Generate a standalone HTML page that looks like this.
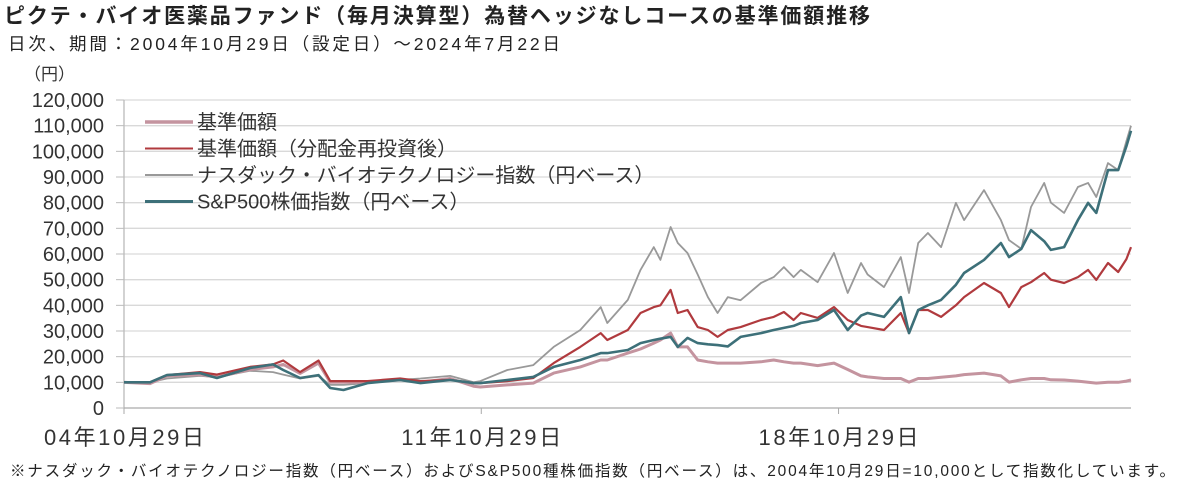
<!DOCTYPE html>
<html><head><meta charset="utf-8">
<style>
body{margin:0;background:#fff;width:1200px;height:499px;overflow:hidden;font-family:"Liberation Sans","Noto Sans CJK JP",sans-serif;color:#222}
svg text{font-family:"Liberation Sans","Noto Sans CJK JP",sans-serif}
</style></head><body>
<svg id="chart" width="1200" height="499" viewBox="0 0 1200 499">
<text x="4" y="23" font-size="21" font-weight="bold" fill="#222" textLength="866">ピクテ・バイオ医薬品ファンド（毎月決算型）為替ヘッジなしコースの基準価額推移</text>
<text x="8" y="50" font-size="17.5" fill="#222" textLength="552">日次、期間：2004年10月29日（設定日）～2024年7月22日</text>
<text x="24" y="80" font-size="17" fill="#333">（円）</text>
<g id="grid"></g><g id="yticks"></g><g id="xticks"></g><g id="series"></g>
<g id="legend"></g>
<text x="10" y="476" font-size="15.5" fill="#222" textLength="1165">※ナスダック・バイオテクノロジー指数（円ベース）およびS&amp;P500種株価指数（円ベース）は、2004年10月29日=10,000として指数化しています。</text>
</svg>
<script>
const yTicks=[0,10000,20000,30000,40000,50000,60000,70000,80000,90000,100000,110000,120000];
const xTickDates=[2004.83,2011.83,2018.83];
const xTickLabels=["04年10月29日","11年10月29日","18年10月29日"];
const dates=[2004.83,2005.34,2005.67,2006.32,2006.65,2007.30,2007.75,2007.95,2008.28,2008.64,2008.87,2009.13,2009.60,2010.24,2010.64,2011.22,2011.68,2011.81,2012.34,2012.85,2013.25,2013.77,2014.17,2014.30,2014.70,2014.95,2015.21,2015.34,2015.54,2015.68,2015.87,2016.07,2016.27,2016.46,2016.66,2016.91,2017.31,2017.56,2017.76,2017.95,2018.09,2018.42,2018.74,2019.01,2019.27,2019.40,2019.72,2020.05,2020.21,2020.39,2020.58,2020.84,2021.13,2021.29,2021.68,2022.01,2022.17,2022.41,2022.60,2022.86,2022.99,2023.25,2023.52,2023.72,2023.88,2024.11,2024.31,2024.47,2024.56];
const nasdaqBio=[10000,10000,11500,12500,12000,14500,14000,13000,11500,12500,9000,9000,9700,11000,11500,12500,10000,10500,14800,16700,23800,30400,39300,33100,42100,53800,62700,57700,70500,64300,60400,52000,43200,37000,43200,42000,48700,51000,54900,51000,53800,49000,60400,44800,56500,52000,47100,58800,44800,64300,68200,62700,79900,73200,84900,73200,65400,62000,78300,87700,80000,76000,86100,87700,82200,95400,92700,104000,110000];
const sp500=[10000,10000,12800,13600,11700,15600,17000,14800,11700,12800,7800,7000,9700,10900,9700,10900,9700,9700,10900,12100,16000,18700,21400,21400,22600,25300,26500,27000,27700,23800,27300,25300,24800,24500,24000,27700,29200,30400,31200,32000,33100,34300,38200,30400,36000,37000,35500,43200,29200,38200,40000,42100,48000,52600,57700,64300,58800,62000,69300,65000,61600,62700,73200,79900,76000,92700,92700,102000,108000];
const navReinvest=[10000,10000,12800,14000,13000,16000,17000,18500,14000,18500,10500,10500,10500,11500,10500,11000,9700,9700,10500,11700,17500,23800,29200,26500,30400,37000,39300,40000,46000,37000,38200,31500,30400,27700,30400,31500,34300,35500,37400,34300,37000,35100,39300,34300,32000,31500,30400,37000,29200,38200,38200,35500,40000,43200,48700,44800,39300,47100,49000,52600,50000,48700,51000,53800,49900,56500,53000,58000,62700];
const nav=[10000,9500,12500,13000,12000,15000,16000,17000,13500,17500,10000,10000,10000,11000,10000,11500,8500,8200,9000,9700,13600,16000,18700,18700,21400,23000,25300,26500,29200,23800,23800,18700,18000,17500,17500,17500,18000,18700,18000,17500,17500,16500,17500,15000,12500,12100,11500,11500,10100,11500,11500,12000,12500,13000,13600,12500,10100,11000,11500,11500,11000,10900,10500,10000,9700,10000,10000,10500,10900];
const seriesNames=["基準価額","基準価額（分配金再投資後）","ナスダック・バイオテクノロジー指数（円ベース）","S&P500株価指数（円ベース）"];

const NS="http://www.w3.org/2000/svg";
const X0=124,X1=1131,Y0=408,Y1=100,D0=2004.83,D1=2024.56;
const xs=d=>X0+(d-D0)/(D1-D0)*(X1-X0);
const ys=v=>Y0-v/120000*(Y0-Y1);
function mk(tag,attrs,parent){const e=document.createElementNS(NS,tag);for(const k in attrs)e.setAttribute(k,attrs[k]);parent.appendChild(e);return e;}
const grid=document.getElementById('grid'),yt=document.getElementById('yticks'),xt=document.getElementById('xticks'),sg=document.getElementById('series'),lg=document.getElementById('legend');
yTicks.forEach(v=>{
  const y=ys(v);
  if(v>0){const l=mk('line',{x1:X0,x2:X1,y1:y,y2:y,stroke:'#d9d9d9','stroke-width':1.3},grid);
  
  }
  const tk=mk('line',{x1:116,x2:X0,y1:y,y2:y,stroke:'#bbb','stroke-width':1},yt);
  
  
  const t=mk('text',{x:104,y:y+7,'text-anchor':'end','font-size':20,fill:'#333'},yt);
  t.textContent=v.toLocaleString('en-US');
  
  
});
const ax=mk('line',{x1:X0,x2:X0,y1:Y1,y2:Y0,stroke:'#bbb','stroke-width':1.3},grid);


const bx=mk('line',{x1:X0,x2:X1,y1:Y0,y2:Y0,stroke:'#aaa','stroke-width':1.3},grid);


xTickDates.forEach((d,i)=>{
  const x=xs(d);
  const tk=mk('line',{x1:x,x2:x,y1:Y0,y2:Y0+6,stroke:'#aaa','stroke-width':1},xt);
  
  
  const t=mk('text',{x:x,y:445,'text-anchor':'middle','font-size':22,fill:'#333',textLength:160},xt);
  t.textContent=xTickLabels[i];
  
  
});
const order=[[nasdaqBio,'#999999',1.8,'nasdaq-biotech-line'],[nav,'#c4949f',3,'nav-line'],[navReinvest,'#b03a3e',2.2,'nav-reinvested-line'],[sp500,'#3d7079',2.6,'sp500-line']];
order.forEach(([vals,col,w,name])=>{
  const p=mk('polyline',{points:vals.map((v,i)=>xs(dates[i]).toFixed(1)+','+ys(v).toFixed(1)).join(' '),fill:'none',stroke:col,'stroke-width':w,'stroke-linejoin':'round'},sg);
  
  
});
const legCols=[['#c4949f',3.5],['#b03a3e',2],['#999999',2],['#3d7079',3]];
seriesNames.forEach((n,i)=>{
  const y=122+i*26.5;
  const l=mk('line',{x1:145,x2:193,y1:y,y2:y,stroke:legCols[i][0],'stroke-width':legCols[i][1]},lg);
  
  
  const t=mk('text',{x:197,y:y+7,'font-size':20,fill:'#333'},lg);
  t.textContent=n;
  
  
});
</script>
</body></html>
